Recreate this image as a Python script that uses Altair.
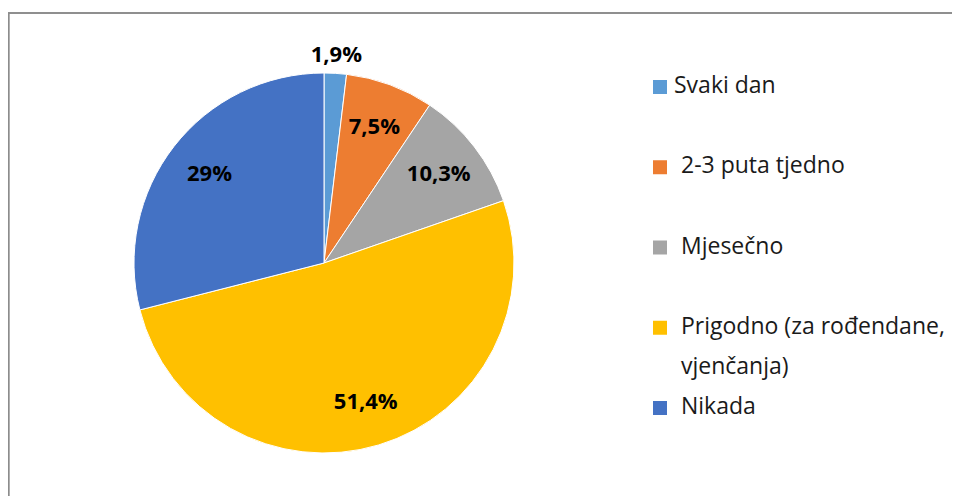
import altair as alt
import pandas as pd

categories = ["Svaki dan", "2-3 puta tjedno", "Mjesečno",
              "Prigodno (za rođendane, vjenčanja)", "Nikada"]
values = [1.9, 7.5, 10.3, 51.4, 29.0]
pct_labels = ["1,9%", "7,5%", "10,3%", "51,4%", "29%"]
legend_labels = ["Svaki dan", "2-3 puta tjedno", "Mjesečno",
                 "Prigodno (za rođendane,\nvjenčanja)", "Nikada"]
colors = ["#5B9BD5", "#ED7D31", "#A5A5A5", "#FFC000", "#4472C4"]

df = pd.DataFrame({
    "cat": categories,
    "value": values,
    "label": pct_labels,
    "legend": legend_labels,
    "idx": list(range(len(categories))),
})

W, H = 944, 488
CX, CY = 316, 255
R = 190

color = alt.Color("cat:N", scale=alt.Scale(domain=categories, range=colors), legend=None)

base = alt.Chart(df).transform_joinaggregate(
    total="sum(value)"
).transform_window(
    cum="sum(value)", sort=[alt.SortField("idx")], frame=[None, 0]
).transform_calculate(
    start="(datum.cum - datum.value) / datum.total * 2 * PI",
    end="datum.cum / datum.total * 2 * PI",
    mid="(datum.cum - datum.value / 2) / datum.total * 2 * PI",
    r="datum.value < 5 ? 208 : 145",
)

arcs = base.mark_arc(outerRadius=R, stroke="white", strokeWidth=1).encode(
    theta=alt.Theta("start:Q", scale=None),
    theta2="end:Q",
    color=color,
    x=alt.value(CX),
    y=alt.value(CY),
)

labels = base.mark_text(font="Open Sans", fontWeight="bold", fontSize=22,
                        color="black").encode(
    theta=alt.Theta("mid:Q", scale=None),
    radius=alt.Radius("r:Q", scale=None),
    text="label:N",
    x=alt.value(CX),
    y=alt.value(CY),
)

ypos = alt.Y("cat:N", sort=categories,
             scale=alt.Scale(type="point", domain=categories, range=[79, 400],
                             padding=0),
             axis=None)

squares = alt.Chart(df).mark_square(size=196, opacity=1).encode(
    x=alt.value(652), y=ypos, color=color
)

text_style = dict(align="left", baseline="top", dy=-12, font="Open Sans",
                  fontSize=23, color="#1a1a1a", lineBreak="\n", lineHeight=40)

legend_first = alt.Chart(df).transform_filter("datum.idx == 0").mark_text(
    **text_style
).encode(x=alt.value(666), y=ypos, text="legend:N")

legend_rest = alt.Chart(df).transform_filter("datum.idx > 0").mark_text(
    **text_style
).encode(x=alt.value(673), y=ypos, text="legend:N")

frame_top = alt.Chart(df).mark_rule(color="#8c8c8c", strokeWidth=1.2).encode(
    x=alt.value(0), x2=alt.value(W), y=alt.value(5)
)
frame_left = alt.Chart(df).mark_rule(color="#8c8c8c", strokeWidth=1.2).encode(
    x=alt.value(0.6), y=alt.value(5), y2=alt.value(H)
)

chart = alt.layer(frame_top, frame_left, arcs, labels, squares,
                  legend_first, legend_rest).properties(
    width=W, height=H, autosize=alt.AutoSizeParams(type="none"),
    padding={"left": 0, "right": 0, "top": 0, "bottom": 0},
).configure_view(stroke=None)

chart.save("out.html", embed_options={"renderer": "svg", "actions": False})
